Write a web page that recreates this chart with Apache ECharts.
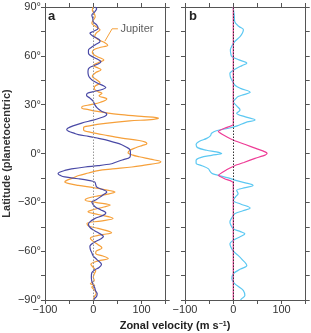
<!DOCTYPE html>
<html>
<head>
<meta charset="utf-8">
<script src="https://cdn.jsdelivr.net/npm/echarts@6/dist/echarts.min.js"></script>
<style>
html,body{margin:0;padding:0;background:#fff;}
#chart{width:311px;height:333px;}
</style>
</head>
<body>
<div id="chart"></div>
<script>
// ---- data: [latitude, zonal velocity m/s] ----
const jupiterObserved = [
 [90,0],[88,-2],[86,2],[84,4],[82,0],[80,-3],[78,5],[76,14],[74,6],[72,3],[70,10],[68,24],[66.5,30],[65,12],[63.5,0],[62,-2],[60.5,2],[59,12],[57.5,22],[56,12],[54,0],[52.5,10],[51.5,16],[49.5,4],[47.5,-2],[45,8],[43.3,14],[41.5,4],[40,2],[38,10],[37,18],[35.5,12],[33.5,28],[31.5,15],[30,-5],[29,-22],[28,-24],[27,-10],[26,5],[24,52],[22.8,100],[21.8,135],[21,125],[20,75],[18.5,25],[17,-8],[16,-20],[14.5,-20],[13,-5],[11,30],[9.5,59],[8,95],[7,108],[6,111],[5,102],[3.5,88],[2,76],[0.5,72],[-1,82],[-2,95],[-3.5,118],[-5,140],[-6,132],[-7,110],[-8.3,80],[-9.5,40],[-10.5,10],[-12,-10],[-13.5,-30],[-15,-42],[-16.5,-55],[-17.5,-59],[-18.5,-50],[-19.6,-31],[-21,0],[-22,20],[-23.7,45],[-25,30],[-26,10],[-27.5,-12],[-28.6,-17],[-30,5],[-31.7,35],[-33,20],[-34.5,0],[-35.8,-11],[-37.5,10],[-39.9,41],[-41.5,15],[-42.9,-13],[-44.5,-10],[-46,10],[-48.7,38],[-50,15],[-52,-6],[-54,0],[-56,10],[-58,18],[-60,6],[-61.5,5],[-63,20],[-64.5,31],[-66,10],[-68,-5],[-70,0],[-72,5],[-74,2],[-76,0],[-78,2],[-80,-6],[-81,3],[-82,-3],[-84,3],[-86,6],[-88,2],[-90,0]
];
const modelA = [
 [90,3],[89,7],[87,3],[85,-3],[83,-1],[81,0],[79,7],[77,10],[75,0],[73.9,-7],[72,0],[70,12],[68.8,14],[67,5],[65,-5],[63.6,-10],[61.6,-10],[60,-5],[58,8],[56.4,16],[55,10],[53.5,-3],[52,-10],[50,-11],[48,-10],[46.4,-7],[45,-2],[43,10],[41.5,22],[40.5,26],[39.5,20],[38,0],[37,-12],[35.8,-14],[34,-7],[32,0],[30,3],[28,8],[26,17],[24.3,28],[23,25],[21.8,14],[20.5,0],[18.7,-24],[17,-42],[15.5,-53],[14.6,-55],[13.5,-50],[12.5,-40],[11.6,-31],[10.5,-10],[9.5,8],[8.5,24],[7,42],[5.4,59],[4,68],[2.3,76],[0,77],[-2.2,76],[-4,60],[-5.5,45],[-6.3,38],[-7.5,10],[-8.3,-17],[-9.5,-45],[-10.4,-59],[-11.5,-70],[-12.4,-73],[-13.5,-68],[-14.4,-59],[-15.5,-31],[-16.5,-10],[-17.5,3],[-19,5],[-20.6,7],[-22,18],[-23.6,28],[-25.5,20],[-26.8,14],[-28.5,5],[-29.8,-3],[-31.5,0],[-33,5],[-34.5,15],[-36.5,26],[-38,20],[-40,3],[-42,-7],[-43.5,-10],[-45,-8],[-47,0],[-49,12],[-51,21],[-52.5,15],[-54.5,2],[-57,-7],[-59,-6],[-61,-3],[-63,0],[-65,7],[-68.2,17],[-70,12],[-71.5,3],[-73.3,-3],[-76,-4],[-78.5,-3],[-80.5,0],[-82.5,3],[-84.5,5],[-86,8],[-87.7,7],[-89,3],[-90,1]
];
const modelB1 = [
 [90,0],[87,1],[85,2],[81,3],[78,12],[76,21],[74,19],[71.8,14],[68.8,3],[66,-3],[63.6,-6],[61,-5],[59.6,-3],[57.5,12],[55.5,28],[54,18],[52.4,7],[50.5,-3],[49.3,-7],[47,-6],[45.2,-3],[42.1,3],[40,15],[37.6,35],[36.2,22],[35,10],[33,3],[31.9,0],[29,8],[26.8,14],[24.7,7],[22.5,25],[20.6,45],[19,25],[17,8],[15.5,-10],[14,-35],[12.4,-45],[11,-47],[9.3,-55],[7.5,-70],[5.5,-77],[3.6,-74],[2,-55],[1,-35],[0,-24],[-1.1,-45],[-2.5,-68],[-4.2,-77],[-6,-77],[-7.5,-65],[-9.3,-52],[-11.4,-47],[-12.5,-42],[-13.4,-31],[-15,-10],[-16.5,5],[-18,25],[-19.6,41],[-21,25],[-22.7,7],[-24.7,10],[-26.5,5],[-28.8,0],[-31,15],[-33.5,35],[-35.2,20],[-37,3],[-40,-4],[-42.1,-7],[-44,-5],[-46.2,0],[-48,15],[-49.3,24],[-51,15],[-53.4,0],[-55.5,-7],[-57.5,-5],[-60,0],[-62.6,10],[-65,18],[-68.8,28],[-71,15],[-73.9,0],[-77,-3],[-80,3],[-82,12],[-84.2,21],[-87.2,24],[-89.3,17],[-90,15]
];
const modelB2 = [
 [90,0],[18,0],[17,-4],[15.5,-18],[13.5,-31],[12,-24],[10,-12],[8,2],[5.5,25],[3,48],[1,66],[0,70],[-1,66],[-3,45],[-5.5,22],[-7.5,3],[-10,-14],[-13.4,-31],[-15.5,-18],[-17,-4],[-18,0],[-90,0]
];
// leader line for the "Jupiter" label: [zonal velocity, latitude]
const jupiterLeader = [[51,76.6],[39,76.6],[24,69]];
const panelLabels = ['a','b'];
const seriesLabel = 'Jupiter';
const yAxisTitle = 'Latitude (planetocentric)';
const xAxisTitle = 'Zonal velocity (m s';
const xTickLabels = [-100, 0, 100];
const yTickLabels = [-90,-60,-30,0,30,60,90];

const toXY = arr => arr.map(p => [p[1], p[0]]);
const fmtNum = v => (v < 0 ? '\u2212' + (-v) : String(v));

const FONT = '"Liberation Sans", Arial, Helvetica, sans-serif';
const AX = '#555';
const TXT = '#333';

function xAx(grid, pos, labels) {
  return {
    gridIndex: grid, type: 'value', position: pos, min: -100, max: 150, interval: 50,
    axisLine: { show: true, onZero: false, lineStyle: { color: AX, width: 1 } },
    axisTick: { show: true, inside: false, length: 4, lineStyle: { color: AX } },
    axisLabel: { show: labels, margin: 4, fontSize: 11, color: TXT, fontFamily: FONT,
      formatter: v => xTickLabels.indexOf(v) >= 0 ? fmtNum(v) : '' },
    splitLine: { show: false }
  };
}
function yAx(grid, pos, labels) {
  const o = {
    gridIndex: grid, type: 'value', position: pos, min: -90, max: 90, interval: 15,
    axisLine: { show: true, onZero: false, lineStyle: { color: AX, width: 1 } },
    axisTick: { show: true, inside: false, length: 4, lineStyle: { color: AX } },
    axisLabel: { show: labels, margin: 4, fontSize: 11, color: TXT, fontFamily: FONT,
      formatter: v => yTickLabels.indexOf(v) >= 0 ? fmtNum(v) + '\u00b0' : '' },
    splitLine: { show: false }
  };
  if (labels) {
    o.name = yAxisTitle;
    o.nameLocation = 'middle';
    o.nameGap = 33;
    o.nameTextStyle = { fontSize: 11, fontWeight: 'bold', color: TXT, fontFamily: FONT };
  }
  return o;
}

const chart = echarts.init(document.getElementById('chart'), null, { renderer: 'canvas' });
const lineBase = { type: 'line', showSymbol: false, symbol: 'none', animation: false, z: 3 };

const option = {
  animation: false,
  backgroundColor: '#fff',
  textStyle: { fontFamily: FONT },
  grid: [
    { left: 45, top: 7, width: 120.7, height: 293, show: false },
    { left: 185, top: 7, width: 120.7, height: 293, show: false }
  ],
  xAxis: [xAx(0, 'bottom', true), xAx(0, 'top', false), xAx(1, 'bottom', true), xAx(1, 'top', false)],
  yAxis: [yAx(0, 'left', true), yAx(0, 'right', false), yAx(1, 'left', false), yAx(1, 'right', false)],
  graphic: [
    { type: 'text', x: 48, y: 16, style: { text: panelLabels[0], font: 'bold 13px ' + FONT, fill: '#222', textVerticalAlign: 'middle' } },
    { type: 'text', x: 189, y: 16, style: { text: panelLabels[1], font: 'bold 13px ' + FONT, fill: '#222', textVerticalAlign: 'middle' } },
    { type: 'text', x: 175, y: 326, style: {
        text: '{a|' + xAxisTitle + '}{s|\u22121}{a|)}',
        textAlign: 'center', textVerticalAlign: 'middle',
        rich: {
          a: { fontSize: 11, fontWeight: 'bold', fontFamily: FONT, fill: '#222', color: '#222' },
          s: { fontSize: 7, fontWeight: 'bold', fontFamily: FONT, fill: '#222', color: '#222', verticalAlign: 'top' }
        }
      } }
  ],
  series: [
    Object.assign({}, lineBase, {
      name: 'zeroA', xAxisIndex: 0, yAxisIndex: 0, data: [], z: 1,
      markLine: { silent: true, symbol: 'none', label: { show: false },
        lineStyle: { color: '#999', type: [1.5, 1.5], width: 1 }, data: [{ xAxis: 0 }] }
    }),
    Object.assign({}, lineBase, {
      name: 'Jupiter', xAxisIndex: 0, yAxisIndex: 0, data: toXY(jupiterObserved), smooth: 0.35,
      lineStyle: { color: '#F6A03A', width: 1.2 }
    }),
    Object.assign({}, lineBase, {
      name: 'modelA', xAxisIndex: 0, yAxisIndex: 0, data: toXY(modelA), smooth: 0.35,
      lineStyle: { color: '#4A4AA6', width: 1.2 }, z: 4
    }),
    Object.assign({}, lineBase, {
      name: 'leader', xAxisIndex: 0, yAxisIndex: 0, smooth: false,
      lineStyle: { color: '#F6A03A', width: 1 }, data: jupiterLeader
    }),
    {
      type: 'scatter', name: 'leaderLabel', xAxisIndex: 0, yAxisIndex: 0, symbolSize: 1,
      itemStyle: { color: 'rgba(0,0,0,0)' }, animation: false, silent: true, z: 5,
      data: [jupiterLeader[0]],
      label: { show: true, position: 'right', distance: 2, formatter: seriesLabel,
        fontSize: 11, color: TXT, fontFamily: FONT }
    },
    Object.assign({}, lineBase, {
      name: 'zeroB', xAxisIndex: 2, yAxisIndex: 2, data: [], z: 1,
      markLine: { silent: true, symbol: 'none', label: { show: false },
        lineStyle: { color: '#333', type: [1.5, 1.5], width: 1 }, data: [{ xAxis: 0 }] }
    }),
    Object.assign({}, lineBase, {
      name: 'modelB1', xAxisIndex: 2, yAxisIndex: 2, data: toXY(modelB1), smooth: 0.35,
      lineStyle: { color: '#5CC8F2', width: 1.2 }
    }),
    Object.assign({}, lineBase, {
      name: 'modelB2', xAxisIndex: 2, yAxisIndex: 2, data: toXY(modelB2), smooth: 0.15,
      lineStyle: { color: '#EE3C96', width: 1.2 }, z: 4
    })
  ]
};
chart.setOption(option);
</script>
</body>
</html>
